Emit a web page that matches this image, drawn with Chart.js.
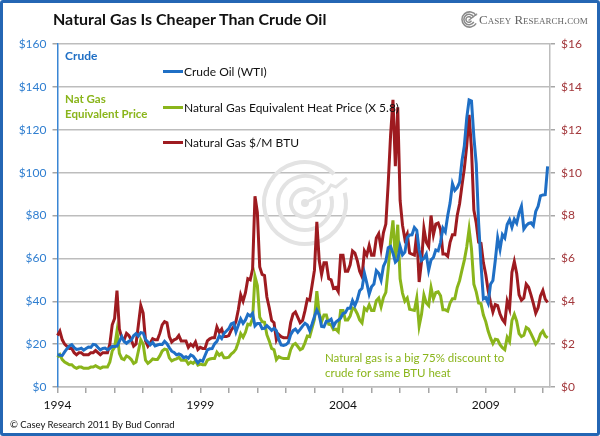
<!DOCTYPE html>
<html>
<head>
<meta charset="utf-8">
<script src="https://cdn.jsdelivr.net/npm/chart.js@4.4.1/dist/chart.umd.min.js"></script>
<style>
  body { margin: 0; background: #fff; font-family: Lato, "Noto Sans", sans-serif; }
  #wrap { position: relative; width: 600px; height: 436px; overflow: hidden; }
  #frame { position: absolute; left: 0; top: 0; width: 600px; height: 436px; box-sizing: border-box;
           border: 3px solid #2466B4; border-radius: 3px; pointer-events: none; }
  canvas { position: absolute; left: 0; top: 0; }
  .t { position: absolute; white-space: nowrap; line-height: 1; }
  .leg { position: absolute; white-space: nowrap; font-size: 12px; color: #111; line-height: 14px; }
  .leg i { display: inline-block; width: 20px; height: 3px; vertical-align: middle; margin-right: 1px; position: relative; top: -1px; }
</style>
</head>
<body>
<div id="wrap">
  <canvas id="chart" width="600" height="436"></canvas>
  <div class="t" style="left:53px;top:11px;font-size:16px;font-weight:bold;color:#111">Natural Gas Is Cheaper Than Crude Oil</div>
  <svg style="position:absolute;left:460px;top:10px" width="19" height="19" viewBox="0 0 20 20">
    <g fill="none" stroke="#8a8a8a" stroke-width="1.6">
      <path d="M17 6 A8 8 0 1 0 17 14"/><path d="M14.5 7.5 A5.5 5.5 0 1 0 14.5 12.5"/><path d="M12 8.8 A3 3 0 1 0 12 11.2"/>
      <path d="M9 11 L18 4" stroke-width="1.3"/>
    </g>
  </svg>
  <div class="t" style="left:479px;top:13px;font-family:'Liberation Serif',serif;font-size:13px;font-variant:small-caps;color:#666">Casey Research.com</div>
  <div class="t" style="left:65px;top:50px;font-size:12px;font-weight:bold;color:#1F6FC5">Crude</div>
  <div class="t" style="left:65px;top:91px;font-size:11.5px;font-weight:bold;color:#8AB51B;line-height:15px">Nat Gas<br>Equivalent Price</div>
  <div class="leg" style="left:163px;top:65px"><i style="background:#1F6FC5"></i>Crude Oil (WTI)</div>
  <div class="leg" style="left:163px;top:101px"><i style="background:#8AB51B"></i>Natural Gas Equivalent Heat Price (X 5.8)</div>
  <div class="leg" style="left:163px;top:136px"><i style="background:#9E1B20"></i>Natural Gas $/M BTU</div>
  <div class="t" style="left:325px;top:350px;font-size:11.5px;color:#8AB51B;line-height:15px">Natural gas is a big 75% discount to<br>crude for same BTU heat</div>
  <div class="t" style="left:10px;top:420px;font-size:9.5px;color:#111">© Casey Research 2011 By Bud Conrad</div>
  <div id="frame"></div>
</div>
<script>
// monthly, Jan 1994 .. Mar 2011
const crude = [
  15.0, 14.8, 14.7, 16.4, 17.9, 19.1, 19.7, 18.4, 17.5, 17.7, 18.1, 17.2,
  18.0, 18.6, 18.5, 19.9, 19.7, 18.4, 17.3, 18.0, 18.2, 17.4, 18.0, 19.0,
  18.9, 19.1, 21.3, 23.5, 21.2, 20.4, 21.3, 21.9, 23.9, 24.9, 23.7, 25.4,
  25.2, 22.2, 21.0, 19.7, 20.8, 19.2, 19.6, 19.9, 19.8, 21.3, 20.2, 18.3,
  16.7, 16.1, 15.0, 15.4, 14.9, 13.7, 14.1, 13.4, 15.0, 14.4, 12.9, 11.3,
  12.5, 12.0, 14.7, 17.3, 17.8, 17.9, 20.1, 21.3, 23.9, 22.6, 25.0, 26.1,
  27.2, 29.4, 29.9, 25.7, 28.8, 31.8, 29.7, 31.3, 33.9, 33.1, 34.4, 28.5,
  29.6, 29.6, 27.2, 27.4, 28.6, 27.6, 26.4, 27.4, 26.2, 22.2, 19.6, 19.4,
  19.7, 20.7, 24.4, 26.3, 27.0, 25.5, 26.9, 28.4, 29.7, 28.9, 26.3, 29.4,
  32.9, 35.9, 33.5, 28.3, 28.1, 30.7, 30.8, 31.6, 28.3, 30.3, 31.1, 32.2,
  34.3, 34.7, 36.7, 36.7, 40.3, 38.0, 40.7, 44.9, 46.0, 53.1, 48.5, 43.3,
  46.8, 48.0, 54.3, 53.0, 49.8, 56.3, 58.7, 65.0, 65.6, 62.4, 58.3, 59.4,
  65.5, 61.6, 62.9, 69.7, 70.9, 71.0, 74.4, 73.1, 63.9, 59.0, 60.0, 62.0,
  54.5, 59.3, 60.4, 63.9, 63.5, 67.5, 74.1, 72.4, 79.9, 85.8, 94.8, 91.7,
  93.0, 95.4, 105.5, 112.6, 125.4, 133.9, 133.4, 116.7, 104.1, 76.6, 57.3, 41.1,
  41.7, 39.1, 47.9, 49.7, 59.0, 69.6, 64.2, 71.1, 69.5, 75.8, 78.0, 74.5,
  78.3, 76.4, 81.2, 84.3, 73.7, 75.3, 76.3, 76.6, 75.2, 81.9, 84.3, 89.2,
  89.6, 89.7, 102.9
];
// $/MMBtu, right axis
const gasPrice = [
  2.4, 2.6, 2.2, 2.0, 1.9, 1.8, 1.8, 1.6, 1.5, 1.6, 1.6, 1.5,
  1.5, 1.5, 1.6, 1.6, 1.7, 1.6, 1.5, 1.6, 1.6, 1.6, 2.0, 2.9,
  3.2, 4.5, 2.7, 2.3, 2.2, 2.5, 2.4, 2.2, 1.9, 2.0, 2.9, 3.8,
  3.45, 2.15, 1.9, 2.05, 2.25, 2.2, 2.2, 2.5, 2.9, 3.05, 3.0, 2.35,
  2.1, 2.2, 2.25, 2.4, 2.15, 2.15, 2.15, 1.85, 2.0, 1.9, 2.1, 1.75,
  1.85, 1.8, 1.8, 2.15, 2.25, 2.3, 2.3, 2.8, 2.55, 2.7, 2.35, 2.35,
  2.4, 2.65, 2.8, 3.05, 3.6, 4.3, 4.0, 4.4, 5.05, 5.0, 5.5, 8.9,
  8.15, 5.6, 5.25, 5.2, 4.2, 3.7, 3.1, 3.0, 2.2, 2.45, 2.35, 2.3,
  2.3, 2.3, 3.0, 3.4, 3.5, 3.25, 3.0, 3.1, 3.55, 4.1, 4.05, 4.75,
  5.45, 7.7, 5.9, 5.25, 5.8, 5.8, 5.05, 5.0, 4.6, 4.65, 4.45, 6.15,
  6.15, 5.4, 5.4, 5.7, 6.35, 6.25, 5.9, 5.4, 5.15, 6.35, 6.15, 6.6,
  6.15, 6.15, 6.95, 7.15, 6.45, 7.2, 7.6, 9.5, 11.75, 13.4, 10.3, 13.05,
  8.7, 7.55, 6.9, 7.15, 6.25, 6.2, 6.15, 7.15, 4.9, 5.85, 7.4, 6.75,
  6.55, 8.0, 7.1, 7.6, 7.65, 7.35, 6.2, 6.2, 6.1, 6.75, 7.1, 7.1,
  8.0, 8.55, 9.4, 10.2, 11.25, 12.7, 11.1, 8.25, 7.65, 6.75, 6.7, 5.8,
  5.25, 4.5, 3.95, 3.5, 3.85, 3.8, 3.4, 3.15, 3.0, 4.0, 3.65, 5.35,
  5.85, 5.3, 4.3, 4.05, 4.15, 4.8, 4.65, 4.3, 3.9, 3.45, 3.7, 4.25,
  4.5, 4.1, 3.95
];
// heat-equivalent price (x 5.8), left axis
const gasEquiv = [
  13.9, 15.1, 12.8, 11.6, 11.0, 10.4, 10.4, 9.3, 8.7, 9.3, 9.3, 8.7,
  8.7, 8.7, 9.3, 9.3, 9.9, 9.3, 8.7, 9.3, 9.3, 9.3, 11.6, 16.8,
  18.6, 26.1, 15.7, 13.3, 12.8, 14.5, 13.9, 12.8, 11.0, 11.6, 16.8, 22.0,
  20.0, 12.5, 11.0, 11.9, 13.1, 12.8, 12.8, 14.5, 16.8, 17.7, 17.4, 13.6,
  12.2, 12.8, 13.1, 13.9, 12.5, 12.5, 12.5, 10.7, 11.6, 11.0, 12.2, 10.2,
  10.7, 10.4, 10.4, 12.5, 13.1, 13.3, 13.3, 16.2, 14.8, 15.7, 13.6, 13.6,
  13.9, 15.4, 16.2, 17.7, 20.9, 24.9, 23.2, 25.5, 29.3, 29.0, 31.9, 51.6,
  47.3, 32.5, 30.5, 30.2, 24.4, 21.5, 18.0, 17.4, 12.8, 14.2, 13.6, 13.3,
  13.3, 13.3, 17.4, 19.7, 20.3, 18.9, 17.4, 18.0, 20.6, 23.8, 23.5, 27.6,
  31.6, 44.7, 34.2, 30.5, 33.6, 33.6, 29.3, 29.0, 26.7, 27.0, 25.8, 35.7,
  35.7, 31.3, 31.3, 33.1, 36.8, 36.3, 34.2, 31.3, 29.9, 36.8, 35.7, 38.3,
  35.7, 35.7, 40.3, 41.5, 37.4, 41.8, 44.1, 55.1, 68.2, 77.7, 59.7, 75.7,
  50.5, 43.8, 40.0, 41.5, 36.3, 36.0, 35.7, 41.5, 28.4, 33.9, 42.9, 39.2,
  38.0, 46.4, 41.2, 44.1, 44.4, 42.6, 36.0, 36.0, 35.4, 39.2, 41.2, 41.2,
  46.4, 49.6, 54.5, 59.2, 65.3, 73.7, 64.4, 47.9, 44.4, 39.2, 38.9, 33.6,
  30.5, 26.1, 22.9, 20.3, 22.3, 22.0, 19.7, 18.3, 17.4, 23.2, 21.2, 31.0,
  33.9, 30.7, 24.9, 23.5, 24.1, 27.8, 27.0, 24.9, 22.6, 20.0, 21.5, 24.7,
  26.1, 23.8, 22.9
];

// month labels Jan 1994 .. Apr 2011 (last one has no data)
const months = [];
for (let y = 1994; y <= 2011; y++) {
  for (let m = 1; m <= 12; m++) {
    if (y === 2011 && m > 4) break;
    months.push(y + '-' + String(m).padStart(2, '0'));
  }
}

const font = { family: 'Lato, "Noto Sans", sans-serif', size: 12 };

// faint swirl watermark behind the lines
const watermark = {
  id: 'watermark',
  beforeDatasetsDraw(chart) {
    const ctx = chart.ctx;
    const cx = 305, cy = 203;
    ctx.save();
    ctx.setLineDash([]);
    ctx.strokeStyle = '#E3E3E3';
    ctx.lineWidth = 4;
    [14, 27, 41].forEach(r => {
      ctx.beginPath();
      ctx.arc(cx, cy, r, -0.08 * Math.PI, 1.75 * Math.PI, false);
      ctx.stroke();
    });
    ctx.beginPath();
    ctx.arc(cx, cy, 4, 0, 2 * Math.PI);
    ctx.fillStyle = '#E3E3E3';
    ctx.fill();
    ctx.lineWidth = 3;
    ctx.beginPath();
    ctx.moveTo(cx, cy);
    ctx.lineTo(cx + 22, cy - 12);
    ctx.lineTo(cx + 26, cy - 18);
    ctx.lineTo(cx + 31, cy - 16);
    ctx.lineTo(cx + 42, cy - 25);
    ctx.stroke();
    ctx.restore();
  }
};

new Chart(document.getElementById('chart'), {
  type: 'line',
  data: {
    labels: months,
    datasets: [
      { label: 'Crude Oil (WTI)', data: crude, borderColor: '#1F6FC5', yAxisID: 'y' },
      { label: 'Natural Gas $/M BTU', data: gasPrice, borderColor: '#9E1B20', yAxisID: 'y2' },
      { label: 'Natural Gas Equivalent Heat Price (X 5.8)', data: gasEquiv, borderColor: '#8AB51B', yAxisID: 'y' }
    ]
  },
  options: {
    responsive: false,
    animation: false,
    layout: { padding: { top: 44, left: 0, right: 0, bottom: 0 } },
    elements: {
      line: { borderWidth: 3, tension: 0 },
      point: { radius: 0 }
    },
    plugins: { legend: { display: false }, tooltip: { enabled: false } },
    scales: {
      x: {
        type: 'category',
        afterFit(s) { s.height = 49; },
        grid: {
          drawOnChartArea: false,
          tickLength: 6,
          color: c => (c.index % 12 === 0 ? '#A6A6A6' : 'rgba(0,0,0,0)'),
          lineWidth: 1.5
        },
        border: { color: '#BDBDBD', width: 1.5 },
        ticks: {
          autoSkip: false,
          maxRotation: 0,
          padding: 5,
          color: '#111',
          font: font,
          callback: (v, i) => (i % 60 === 0 ? String(1994 + i / 12) : '')
        }
      },
      y: {
        position: 'left',
        min: 0, max: 160,
        afterFit(s) { s.width = 57.5; },
        ticks: { stepSize: 20, color: '#2F7ED0', font: font, padding: 6, callback: v => '$' + v },
        grid: { color: '#BDBDBD', lineWidth: 1.5, tickLength: 5, tickColor: '#A6A6A6' },
        border: { color: '#3A86D4', width: 1.5 }
      },
      y2: {
        position: 'right',
        min: 0, max: 16,
        afterFit(s) { s.width = 50; },
        ticks: { stepSize: 2, color: '#A3383C', font: font, padding: 6, callback: v => '$' + v },
        grid: { drawOnChartArea: false, tickLength: 5, color: '#A6A6A6', lineWidth: 1.5 },
        border: { color: '#BDBDBD', width: 1.5 }
      }
    }
  },
  plugins: [watermark]
});
</script>
</body>
</html>
